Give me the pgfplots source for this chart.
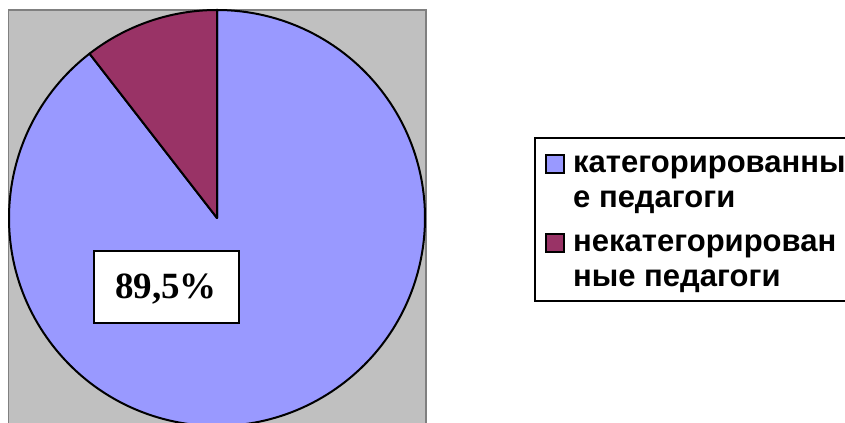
\documentclass[border=0pt]{standalone}
\usepackage{pgfplots}
\pgfplotsset{compat=1.18}
\usepackage{pgfplotstable}
\usepackage{fontspec}
\setmainfont{Liberation Serif}
\newfontfamily\arialfont{Liberation Sans}
\definecolor{sliceblue}{HTML}{9999FF}
\definecolor{slicemaroon}{HTML}{993366}
\definecolor{plotgray}{HTML}{C0C0C0}
\definecolor{bordergray}{HTML}{808080}
\pgfplotstableread{
label value
cat 89.5
noncat 10.5
}\piedata
\pgfplotstablegetelem{0}{value}\of\piedata \let\va\pgfplotsretval
\pgfplotstablegetelem{1}{value}\of\piedata \let\vb\pgfplotsretval
\pgfmathsetmacro{\angb}{90+3.6*\vb}
\begin{document}
\begin{tikzpicture}
\useasboundingbox (0,0) rectangle (845bp,423bp);
\clip (0,0) rectangle (845bp,423bp);
\begin{axis}[
  at={(0,0)}, anchor=south west,
  scale only axis, width=845bp, height=423bp,
  xmin=0, xmax=845, ymin=0, ymax=423,
  hide axis, clip=false,
]
% plot area
\filldraw[fill=plotgray, draw=bordergray, line width=1.2bp] (axis cs:8.5,-20) rectangle (axis cs:426,413);
% pie slices
\filldraw[fill=sliceblue, draw=black, line width=2bp, line join=round]
  (axis cs:217,205) -- ++(\angb:208bp) arc[start angle=\angb, end angle=450, radius=208bp] -- cycle;
\filldraw[fill=slicemaroon, draw=black, line width=2bp, line join=round]
  (axis cs:217,205) -- ++(90:208bp) arc[start angle=90, end angle=\angb, radius=208bp] -- cycle;
% data label
\filldraw[fill=white, draw=black, line width=1.2bp] (axis cs:94,172) rectangle (axis cs:239,100);
\node[font=\bfseries\fontsize{37bp}{40bp}\selectfont, inner sep=0pt, anchor=base] at (axis cs:166,124)
  {\pgfmathprintnumber[fixed, precision=1, use comma, assume math mode=true]{\va}\%};
% legend
\draw[black, line width=1.8bp] (axis cs:900,285) -- (axis cs:535,285) -- (axis cs:535,122) -- (axis cs:900,122);
\filldraw[fill=sliceblue, draw=black, line width=1.5bp] (axis cs:546,268) rectangle (axis cs:564,250);
\filldraw[fill=slicemaroon, draw=black, line width=1.5bp] (axis cs:546,189) rectangle (axis cs:564,171);
\node[font=\arialfont\bfseries\fontsize{31bp}{34bp}\selectfont, inner sep=0pt, anchor=base west] at (axis cs:573,250) {категорированны};
\node[font=\arialfont\bfseries\fontsize{31bp}{34bp}\selectfont, inner sep=0pt, anchor=base west] at (axis cs:573,215) {е педагоги};
\node[font=\arialfont\bfseries\fontsize{31bp}{34bp}\selectfont, inner sep=0pt, anchor=base west] at (axis cs:573,171) {некатегорирован};
\node[font=\arialfont\bfseries\fontsize{31bp}{34bp}\selectfont, inner sep=0pt, anchor=base west] at (axis cs:573,136) {ные педагоги};
\end{axis}
\end{tikzpicture}
\end{document}
